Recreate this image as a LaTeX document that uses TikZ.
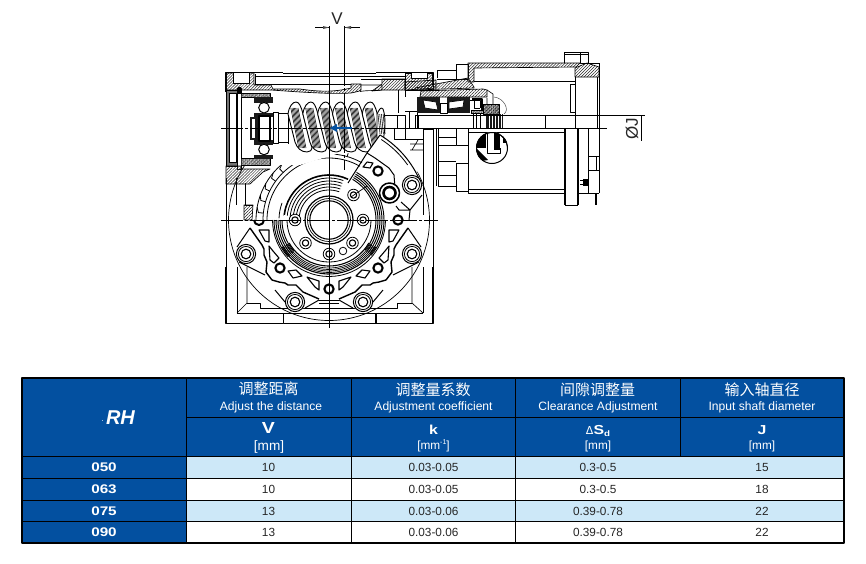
\documentclass[tikz,border=0pt]{standalone}
\usepackage{fontspec}
\setmainfont{Liberation Sans}
\newfontfamily\cjk{Noto Sans CJK SC}
\newfontfamily\wide[FakeStretch=1.22]{Liberation Sans Bold}
\newfontfamily\dejavu{DejaVu Sans}
\usetikzlibrary{patterns.meta,arrows.meta}
\definecolor{tblue}{HTML}{0350A0}
\definecolor{tlight}{HTML}{CDE8F8}
\definecolor{dk}{HTML}{1A1A1A}
\tikzset{
 thin line/.style={line width=.65pt,draw=black},
 med line/.style={line width=1pt,draw=black},
 thick line/.style={line width=1.6pt,draw=black},
 hatch/.style={draw=black,line width=.65pt,pattern={Lines[angle=45,distance=2.1pt,line width=.5pt]},pattern color=black!85},
 fine/.style={draw=black,line width=.5pt,pattern={Lines[angle=45,distance=1.1pt,line width=.5pt]},pattern color=black!80},
 centre/.style={line width=.65pt,draw=black,dash pattern=on 22pt off 2pt on 3pt off 2pt},
 cjkhead/.style={text=white,font=\cjk\fontsize{15}{15}\selectfont,anchor=center,inner sep=0},
 enhead/.style={text=white,font=\fontsize{12.1}{13}\selectfont,anchor=center,inner sep=0},
 symhead/.style={text=white,font=\wide\fontsize{13}{14}\selectfont,anchor=center,inner sep=0},
 unit/.style={text=white,font=\fontsize{11.8}{13}\selectfont,anchor=center,inner sep=0},
 cell/.style={text=black!85,font=\fontsize{11.8}{13}\selectfont,anchor=center,inner sep=0},
 rowhead/.style={text=white,font=\wide\fontsize{12.5}{13}\selectfont,anchor=center,inner sep=0},
 dimtext/.style={font=\fontsize{17}{17}\selectfont,inner sep=0,text=black!85},
}
\newcommand{\earr}[2]{\fill[white] (#1,#2) circle (9.6);\draw[line width=1pt] (#1,#2) circle (9.6);\draw[line width=.8pt] (#1,#2) circle (7.6);\draw[line width=1.1pt] (#1,#2) circle (4.8);}
\newcommand{\smallr}[2]{\fill[white] (#1,#2) circle (6);\draw[line width=.8pt] (#1,#2) circle (5.8);\draw[line width=1.1pt] (#1,#2) circle (3.2);}
\newcommand{\blackr}[2]{\fill[white] (#1,#2) circle (6.5);\draw[line width=2.1pt] (#1,#2) circle (4.6);}
\begin{document}
\begin{tikzpicture}[x=1pt,y=-1pt,line join=round]
\useasboundingbox (0,0) rectangle (866,563);
\fill[white] (0,0) rectangle (866,563);

%% ---------- gearbox lower body
\draw[thick line] (226,267)--(226,323.5)--(283.5,323.5)--(283.5,313);
\draw[thick line] (433,267)--(433,323.5)--(376,323.5)--(376,313);
\draw[thin line] (283.5,323.5)--(376,323.5);
\draw[thin line] (237,313)--(423,313);
\draw[thin line] (237,313)--(237,267) (423,313)--(423,267);
\draw[thin line] (247,303)--(260,303)--(260,308)--(397,308)--(397,303)--(412,303);
\draw[thin line] (237,313)--(247,303)--(247,267) (423,313)--(412,303)--(412,267);
\draw[thin line] (226,178)--(226,267) (433,170)--(433,267);
\draw[thin line] (236,178)--(236,205) (423,180)--(423,215);
\draw[thin line] (245,183)--(245,205)--(253,205);

%% outer circle of flange
\draw[line width=.7pt] (329,220) circle (100.5);

%% hatched mounting piece left of wheel
\draw[hatch] (244,205)--(253,205)--(252,220)--(244,220)--cycle;

%% wheel arcs with teeth
\begin{scope}[shift={(329,220)}]
\draw[line width=.8pt] (180:73) arc (180:285:73);
\draw[line width=.8pt] (180:62) arc (180:300:62);
\draw[line width=.8pt] (180:66) arc (180:300:66);
\foreach \a in {186,196,...,286}{
 \draw[line width=.8pt] (\a:66) -- (\a:71) -- (\a+4:73);
}
\end{scope}

%% ---------- flange
\begin{scope}[shift={(329,220)}]
\foreach \s in {1,-1}{
\begin{scope}[xscale=\s]
 % lobes
 \fill[white] (-79,8)--(-91,26)--(-93,34)--(-89,43)--(-65,55)--(-44,76)--(-45,82)--(-34,90)--(-25,88)--(-10,80)--(0,84)--(0,0)--cycle;
 \draw[line width=1pt] (-79,8)--(-92,27);
 \draw[line width=1pt] (-90,42)--(-64,55);
 \draw[line width=1pt] (-54,70)--(-44,82);
 \draw[line width=1pt] (-24,88)--(-10,80);
 \draw[line width=.8pt] (-10,80)--(0,80);
 \draw[line width=.7pt] (-10,83)--(0,83);
 % thick wavy contour
 \draw[line width=1.4pt] (-79,8)--(-67,25)--(-65,29)--(-65,35)--(-62,42)--(-63,52)--(-57,60)--(-50,62)--(-44,63)--(-41,65)--(-33,65)--(-26,72)--(-10,79);
 % windows
 \draw[line width=1.1pt,fill=white] (-70,10)--(-60,10)--(-60,22)--(-64,21)--cycle;
 \draw[line width=1.1pt,fill=white] (-60,26)--(-56,31)--(-50,38)--(-55,43)--(-59,40)--cycle;
 \draw[line width=1.1pt,fill=white] (-41,51)--(-33,50)--(-27,56)--(-36,58)--cycle;
 \draw[line width=1.1pt,fill=white] (-22,57)--(-10,61)--(-10,70)--(-14,67)--cycle;
 % black rings, ears
 \blackr{-49}{48}
 \earr{-83}{34}
 \earr{-34}{82}
 \smallr{-23.5}{23}
\end{scope}}
 \blackr{0}{69}
 % half ring left
 \draw[line width=2pt] (-75,0) arc (180:0:5);
 % outer circles of wheel hub
 \draw[line width=.8pt] (0:56.5) arc (0:180:56.5);
 \draw[line width=.8pt] (0:42) arc (0:180:42);
 % lower concentric band
 \foreach \r/\w in {54/1.1,52.5/.7,51/.7,49.5/.7,48/.7,46/1.1}{
   \draw[line width=\w pt] (30:{\r}) arc (30:150:{\r});
 }
 % left and right thick bands
 \foreach \r in {47,49,51,53,55}{
   \draw[line width=.95pt] (180:{\r}) arc (180:138:{\r});
   \draw[line width=.95pt] (-60:{\r}) arc (-60:40:{\r});
 }
 % upper concentric arcs
 \foreach \r in {30,33,36,39,42}{
   \draw[line width=.8pt] (182:{\r}) arc (182:290:{\r});
 }
 \draw[line width=1.6pt] (182:45) arc (182:295:45);
 \draw[line width=.8pt] (182:50) arc (182:200:50);
 \fill[white] (-44,-2) ellipse (4 and 3);
 \smallr{-34}{0}
 \smallr{34}{0}
 \smallr{0}{34}
 \smallr{24.5}{-25}
 \draw[line width=.8pt] (14,31) circle (3.8);
 % centre hole
 \fill[white] (0,0) circle (24.5);
 \draw[line width=1.2pt] (0,0) circle (24);
 \draw[line width=1.1pt] (0,0) circle (19.2);
 \draw[line width=.7pt] (0,0) circle (21.5);
\end{scope}

%% ---------- worm chamber: top housing
\fill[white] (226,73)--(226,165)--(300,165)--(340,153)--(367,153)--(380,135)--(405,165)--(430,178)--(432,73)--cycle;

% top & left walls
\draw[line width=1.7pt] (226,92)--(226,72.5)--(283,72.5);
\draw[line width=1.7pt] (376,72.5)--(433,72.5)--(433,85);
\draw[thin line] (283,73.5)--(376,73.5);
\draw[hatch] (226,73)--(254,73)--(254,85)--(271,85)--(273,89)--(300,89)..controls(320,92)and(335,92)..(351,88)--(351,84)--(361,84)--(361,90)..controls(360,91)..(351,93)..controls(335,94)and(320,93)..(300,92)--(271,90)--(226,90)--cycle;
\fill[white] (233,73) rectangle (249,83);
\draw[thin line] (233,73)--(233,83)--(249,83)--(249,73);
\draw[hatch] (382,84)--(382,79)--(405,79)--(405,90)--(382,90)--(372,91)--cycle;
\draw[hatch] (405,73)--(433,73)--(433,90)--(405,90)--cycle;
\fill[white] (411,73) rectangle (427,78);
\draw[thin line] (411,73)--(411,78)--(427,78)--(427,73);
\draw[thin line] (255,74)--(255,85) (255,76)--(405,76) (255,84)--(351,84) (361,79)--(405,79);
\draw[thin line] (360,85)--(382,85)--(382,90) (360,91.5)..controls(368,90)and(376,91)..(382,90);
\draw[thin line] (398,90)--(398,113) (405,90)--(405,97);

% left cover
\draw[line width=.7pt,fill=black!55] (226,90) rectangle (237,166);
\fill[white] (229.5,93.5) rectangle (236,162.5);
\draw[thin line] (229.5,93.5) rectangle (236,162.5);
\fill[white] (237,88) rectangle (241,169);
\draw[thin line] (237,88) rectangle (241,169);
\fill[black] (237.5,87) rectangle (240.5,94);
% left bearing
\fill[pattern={Lines[angle=45,distance=1pt,line width=.6pt]},pattern color=black!70] (241,93) rectangle (270,97);
\fill[pattern={Lines[angle=45,distance=1pt,line width=.6pt]},pattern color=black!70] (241,158) rectangle (270,165);
\draw[thin line] (241,93)--(270,93)--(270,97) (241,97)--(254,97) (241,158)--(254,158) (241,165)--(270,165)--(270,158);
\fill[dk] (254,97) rectangle (273,158.5);
\fill[white] (254,103) rectangle (273,112.5);
\fill[white] (254,144.5) rectangle (273,155);
\fill[white] (259,117) rectangle (273,140);
\fill[white] (264,107.7) circle (5.5);
\draw[line width=1pt] (264,107.7) circle (5.3);
\fill[white] (264,149.5) circle (5.5);
\draw[line width=1pt] (264,149.5) circle (5.3);
\fill[dk] (250,117) rectangle (256,140);
\fill[white] (252,119) rectangle (255,138);
\draw[line width=1.2pt] (259,116) rectangle (270,141);
\draw[thin line] (273,112) rectangle (278,143);
\draw[thin line] (278,113)--(288,113) (278,142)--(288,142);
% hatched bottom left corner of housing
\draw[hatch] (226,166)--(241,166)--(241,169)--(270,169)--(263,172)--(250,184)--(226,184)--cycle;

%% ---------- worm
\begin{scope}[shift={(288,128)}]
 \fill[white] (0,-22) rectangle (97,22);
 \draw[thin line] (0,-16)--(0,16);
 \foreach \i in {0,...,5}{
  \begin{scope}[xshift=\i*14.85pt]
   \draw[line width=.9pt,fill=white] (0,-14)..controls(1,-22)and(5,-26)..(8,-26)..controls(11,-26)and(13,-22)..(15,-14)--(24,20)..controls(24,22)and(22,24)..(19,24)..controls(13,24)and(9,20)..(7,14)--cycle;
   \foreach \d in {0.8,2,3.2,4.4,5.6,6.8,8}{
     \draw[line width=.55pt] (2+\d,-20)--(10+\d,20);
   }
  \end{scope}
 }
 \draw[line width=.9pt,fill=white] (89,-14)..controls(92,-20)and(93,-21)..(95,-19)..controls(97,-14)and(97,-8)..(97,0)--(95,14)--(89,10)--cycle;
 \foreach \d in {0,1.7,3.4,5.1}{\draw[line width=.55pt] (90+\d,-14)--(92+\d,6);}
\end{scope}
% worm shaft to the right
\draw[thin line] (385,115)--(405,115)--(405,128);
\draw[thin line] (397,115)--(397,128);
\draw[thin line] (405,111)--(417,111)--(417,128);
\draw[thin line] (409,111)--(409,128);
\draw[thin line] (394,128)--(394,139)--(423,139);
\draw[thin line] (405,128)--(405,139);
\draw[line width=.7pt] (385,128)--(607,128);

%% upper-right cut-away sector of flange
\begin{scope}[shift={(329,220)}]
 \fill[white] (38,-67)--(51,-85)--(70,-72)--(88,-48)--(96,-27)--(90,-15)--(78,-8)--(66,-8)--(60,-22)--(56,-50)--(40,-55)--cycle;
 \draw[line width=1pt] (38,-67)--(51,-85);
 \draw[line width=1pt] (51,-85) arc (-59:-20:99);
 \draw[line width=.8pt] (-57:96) arc (-57:-35:96);
 \draw[line width=1pt] (38,-67)--(46,-62)--(60,-52)--(65,-45)--(66,-32);
 \draw[line width=1pt] (72,-18)--(81,-10)--(70,-10)--(67,-14);
 \draw[line width=1pt] (93,-25)--(81,-10)--(80,0);
 \draw[line width=1.1pt,fill=white] (38,-58)--(44,-57)--(41,-52)--(34,-53)--cycle;
 \draw[line width=1pt] (38,-67)--(19,-37);
 \draw[line width=.7pt] (22,-23)--(38,-34);
 \earr{83}{-35}
 \blackr{49}{-49}
 \blackr{69}{0}
 \fill[white] (60.5,-27) circle (10.5);
 \draw[line width=1.5pt] (60.5,-27) circle (10);
 \draw[line width=2.6pt] (60.5,-27) circle (6);
\end{scope}

%% ---------- right hand part
\draw[thin line] (437,70.5)--(456,70.5) (437,78)--(437,70.5) (456,64)--(468,64)--(468,78) (456,64)--(456,79) (437,79)--(468,79);
\draw[hatch] (405,82)--(436,80)--(436,88)--(405,90)--cycle;
\draw[hatch] (415,88)--(436,84)--(468,78)--(474,87)--(474,88)--(415,90)--cycle;
\draw[hatch] (421,91)--(483,89)--(487,90)--(487,97)--(420,97)--cycle;
\draw[hatch] (468,63)--(580,63)--(576,67)--(474,68)--(474,82)--(468,82)--cycle;
\draw[hatch] (575,68)--(587,63)--(599,67)--(599,77)--(575,77)--cycle;
\draw[thin line] (474,81.5)--(575,81.5);
\draw[thin line] (575,77)--(575,128);
\draw[thin line] (570,84.5)--(570,112.5)--(575,112.5) (570,84.5)--(575,84.5);
\draw[thin line] (564,63)--(564,52)--(588,52)--(588,63);
\draw[thin line] (580,52)--(580,63)--(590,63) (564,54)--(588,54);
\draw[thin line] (599,63)--(599,193) (597,77)--(597,128);
\draw[thin line] (588,63)--(599,63);

% bearing
\fill[dk] (416.5,97) rectangle (440,113);
\fill[dk] (447,97) rectangle (470,113);
\fill[white] (423,100) -- (436,102)--(438,110)--(425,108)--cycle;
\fill[white] (449,102)--(464,100)--(463,107)--(449,109)--cycle;
\draw[thin line] (423,100) -- (436,102)--(438,110)--(425,108)--cycle;
\draw[thin line] (449,102)--(464,100)--(463,107)--(449,109)--cycle;
\draw[thin line] (440,103) rectangle (447,113);
\draw[med line] (415,115)--(415,128) (418,115)--(418,128);
\draw[med line] (473,113)--(473,128) (476,113)--(476,128) (480,113)--(480,128);
\draw[thin line] (470,100)--(480,100)--(480,108) (474,100)--(474,108)--(480,108);
\draw[line width=1.6pt] (472,99)--(482,99)--(482,110);
\draw[fine] (471,110)--(483,110)--(483,113)--(471,113)--cycle;
% pinion
\fill[dk] (486,114) rectangle (503,128);
\foreach \x in {489,492,...,501}{\draw[white,line width=.25pt] (\x,114)--(\x,128);}
\draw[line width=.5pt,pattern={Lines[angle=45,distance=1pt,line width=.5pt]},pattern color=black] (483,104) rectangle (499,114);
\draw[thin line] (487,90)--(493,94)--(493,104) (487,98)--(487,104);
\draw[line width=.5pt,black!70] (494,97)..controls(504,98)and(510,110)..(504,114);
\draw[thin line] (545,115)--(545,128);
\draw[line width=.8pt] (415,115)--(645,115);

% motor lower block
\draw[line width=.9pt] (468,128)--(468,193)--(565,193);
\draw[thin line] (468,132)--(565,132);
\draw[line width=.9pt] (468,189)--(565,189);
\draw[line width=1.6pt] (565,128)--(565,205);
\draw[line width=1.4pt] (578,128)--(578,205);
\draw[thin line] (565,205)--(578,205);
\draw[thin line] (578,193)--(599,193);
\draw[line width=1.3pt] (596,193)--(596,205);
\draw[thin line] (588,128)--(588,193);
\draw[thin line] (588,156)--(599,156) (588,170)--(599,170);
\draw[med line] (596,156)--(596,170);
\fill[black] (583,179) rectangle (588,186);
\draw[thin line] (580,180)--(585,180) (580,184)--(585,184);
% window
\fill[white] (492,148) circle (16);
\begin{scope}
 \clip (492,148) circle (16);
 \fill[black] (476,132) rectangle (486,148);
 \fill[black] (494,132) rectangle (500,150);
 \fill[black] (503,130) rectangle (508,143);
 \fill[black] (476,148)--(488,160)--(476,162)--cycle;
 \draw[line width=.7pt] (487,132)--(487,153)--(500,153)--(500,148);
\end{scope}
\draw[line width=1pt] (492,148) circle (15.5);
\draw[line width=.5pt] (476.5,150) arc (180:360:15.5 and 17.5);
% left block columns
\draw[med line] (423,129)--(423,205) (433,129)--(433,205);
\draw[thin line] (423,129)--(433,129) (436,129)--(436,186);
\draw[thin line] (438,129)--(438,186)--(456,186);
\draw[thin line] (438,137.5)--(456,137.5) (438,145)--(456,145) (438,161)--(456,161) (438,175)--(456,175);
\draw[thin line] (456,129)--(456,145)--(468,145) (456,163)--(456,191)--(468,191) (456,163)--(468,163);
\draw[thin line] (410,144)--(423,144) (410,150)--(423,150) (412,150)--(418,140);

%% ---------- centre lines & dims
\draw[centre] (221,128)--(385,128);
\draw[centre] (221,220)--(438,220);
\draw[line width=.8pt] (329,26)--(329,328);
\draw[line width=.7pt,dash pattern=on 60pt off 2pt on 3pt off 2pt] (344.5,26)--(344.5,170);
\draw[line width=.6pt] (315,27.5)--(329,27.5);
\draw[line width=.6pt] (344.5,27.5)--(360,27.5);
\fill[black!70] (329,27.5)--(323,26)--(323,29)--cycle;
\fill[black!70] (344.5,27.5)--(351,26)--(351,29)--cycle;
\node[dimtext] (vlab) at (337,18.5) {V};
% blue arrow
\draw[tblue,line width=1.6pt] (352,128)--(335,128);
\fill[tblue] (330,128)--(337,124)--(337,132)--cycle;
% OJ dim
\coordinate (jtop) at (641,115);
\coordinate (jbot) at (641,141);
\draw[line width=.7pt] (jtop)--(jbot);
\node[dimtext,rotate=90] (jlab) at (632,129) {ØJ};

%% ---------- table
\fill[tblue] (22,378) rectangle (844,456.5);
\fill[tblue] (22,456.5) rectangle (186,543);
\fill[tlight] (186,456.5) rectangle (844,478);
\fill[white] (186,478) rectangle (844,500);
\fill[tlight] (186,500) rectangle (844,521.5);
\fill[white] (186,521.5) rectangle (844,543);
\draw[line width=.8pt] (186,378)--(186,543);
\draw[line width=.8pt] (351,378)--(351,543);
\draw[line width=.8pt] (515.5,378)--(515.5,543);
\draw[line width=.8pt] (680.5,378)--(680.5,456.5);
\draw[line width=.8pt] (186,417)--(844,417);
\foreach \y in {456.5,478,500,521.5}{\draw[line width=.8pt] (22,\y)--(844,\y);}
\draw[line width=1.6pt] (22,378) rectangle (844,543);

\node[text=white,font=\bfseries\itshape\fontsize{20}{20}\selectfont,inner sep=0] (rh) at (120.5,418) {RH};
\node[text=white,font=\fontsize{8}{8}\selectfont,inner sep=0] (dot) at (102.5,421) {.};

\node[cjkhead] (h1) at (268.5,389) {调整距离};
\node[enhead] (e1) at (271,407.5) {Adjust the distance};
\node[cjkhead] (h2) at (433,389.5) {调整量系数};
\node[enhead] (e2) at (433.5,407.5) {Adjustment coefficient};
\node[cjkhead] (h3) at (597.5,390) {间隙调整量};
\node[enhead] (e3) at (598,407.5) {Clearance Adjustment};
\node[cjkhead] (h4) at (762,390) {输入轴直径};
\node[enhead] (e4) at (762,407.5) {Input shaft diameter};

\node[symhead,font=\wide\fontsize{16}{16}\selectfont] (s1) at (268.5,428) {V};
\node[unit,font=\fontsize{13.6}{14}\selectfont] (u1) at (269,447) {[mm]};
\node[symhead] (s2) at (433.5,430) {k};
\node[unit] (u2) at (433.5,446) {[mm\raisebox{.75ex}{\fontsize{7}{7}\selectfont -1}]};
\node[symhead] (s3) at (598,431) {{\dejavu\fontsize{11}{12}\selectfont Δ}S\raisebox{-.3ex}{\fontsize{8}{8}\selectfont d}};
\node[unit] (u3) at (598,446) {[mm]};
\node[symhead] (s4) at (762,430) {J};
\node[unit] (u4) at (762,446) {[mm]};

\node[rowhead] (r1) at (104,467.5) {050};
\node[rowhead] (r2) at (104,489) {063};
\node[rowhead] (r3) at (104,511) {075};
\node[rowhead] (r4) at (104,532.5) {090};

\node[cell] (a1) at (268.5,467.5) {10};
\node[cell] (a2) at (268.5,489) {10};
\node[cell] (a3) at (268.5,511) {13};
\node[cell] (a4) at (268.5,532.5) {13};
\node[cell] (b1) at (433.5,467.5) {0.03-0.05};
\node[cell] (b2) at (433.5,489) {0.03-0.05};
\node[cell] (b3) at (433.5,511) {0.03-0.06};
\node[cell] (b4) at (433.5,532.5) {0.03-0.06};
\node[cell] (c1) at (598,467.5) {0.3-0.5};
\node[cell] (c2) at (598,489) {0.3-0.5};
\node[cell] (c3) at (598,511) {0.39-0.78};
\node[cell] (c4) at (598,532.5) {0.39-0.78};
\node[cell] (d1) at (762,467.5) {15};
\node[cell] (d2) at (762,489) {18};
\node[cell] (d3) at (762,511) {22};
\node[cell] (d4) at (762,532.5) {22};
\end{tikzpicture}
\end{document}
